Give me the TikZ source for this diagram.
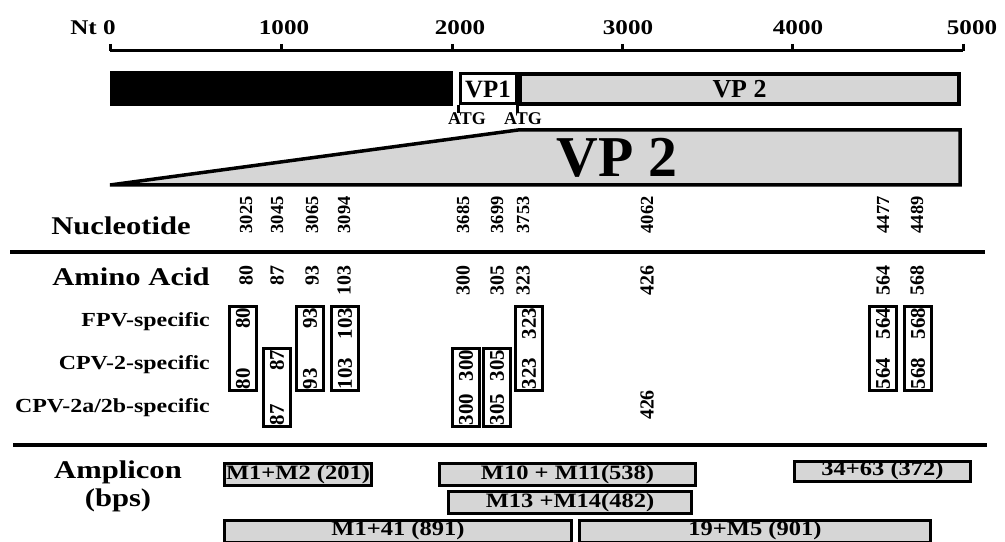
\documentclass[tikz,border=0pt]{standalone}
\usepackage{fontspec}
\setmainfont{Liberation Serif}
\newfontfamily\widefont[FakeStretch=1.2]{Liberation Serif}
\usepackage{tikz}
\usetikzlibrary{positioning}
\usepackage{xcolor}
\definecolor{ink}{RGB}{0,0,0}
\definecolor{dotfill}{RGB}{214,214,214}

\begin{document}
\begin{tikzpicture}[
  x=1bp, y=-1bp,
  rowlab/.style={font=\widefont\bfseries\fontsize{25.6}{28}\selectfont, inner sep=0pt},
  typelab/.style={font=\widefont\bfseries\fontsize{20}{22}\selectfont, inner sep=0pt, anchor=east},
  axlab/.style={font=\widefont\bfseries\fontsize{21}{24}\selectfont, inner sep=0pt},
  ntlab/.style={font=\bfseries\fontsize{18.5}{18}\selectfont, rotate=90, inner sep=0pt},
  aalab/.style={font=\bfseries\fontsize{20}{20}\selectfont, rotate=90, inner sep=0pt},
  site/.style={draw=ink, line width=3.2bp, rotate=90, inner xsep=1.5bp, inner ysep=0pt,
    minimum height=27bp, text width=81bp, align=left, font=\bfseries\fontsize{21}{21}\selectfont},
  siteb/.style={site, text width=75bp},
  amp/.style={draw=ink, fill=dotfill, line width=3bp, inner sep=0pt, minimum height=22bp,
    font=\widefont\bfseries\fontsize{20.5}{20}\selectfont},
  divider/.style={draw=ink, line width=3.5bp}
]
\useasboundingbox (0,0) rectangle (1005,542);
% scale in nucleotides
\draw[line width=3bp] (110,51) -- (963,51);
\draw[line width=3bp] (110,44) -- (110,51) (281,44) -- (281,51) (452,44) -- (452,51)
  (622,44) -- (622,51) (792,44) -- (792,51) (963,44) -- (963,51);
\node[axlab] (nt0) at (93,28) {Nt 0};
\node[axlab] (t1) at (284,28) {1000};
\node[axlab] (t2) at (460,28) {2000};
\node[axlab] (t3) at (628,28) {3000};
\node[axlab] (t4) at (798,28) {4000};
\node[axlab] (t5) at (972,28) {5000};
% genome
\node[fill=ink, minimum width=343bp, minimum height=35bp, inner sep=0pt, anchor=north west] (ns) at (110,71) {};
\node[draw=ink, fill=white, line width=3bp, minimum width=56bp, minimum height=30bp, inner sep=0pt,
  font=\bfseries\fontsize{25}{25}\selectfont] (vp1) at (488,89) {VP1};
\node[draw=ink, fill=dotfill, line width=4bp, minimum width=439bp, minimum height=30bp, inner sep=0pt,
  font=\bfseries\fontsize{26}{26}\selectfont] (vp2) at (739.5,89) {VP 2};
\draw[line width=2.5bp] (vp1.south west) -- ++(0,8);
\draw[line width=2.5bp] (vp1.south east) -- ++(0,8);
\node[font=\bfseries\fontsize{18}{18}\selectfont, inner sep=0pt] (atg1) at (467,119) {ATG};
\node[font=\bfseries\fontsize{18}{18}\selectfont, inner sep=0pt] (atg2) at (523,119) {ATG};
\draw[line width=3.5bp, fill=dotfill] (110,185) -- (518,130) -- (960,130) -- (960,185) -- cycle;
\node[font=\bfseries\fontsize{58}{58}\selectfont, inner sep=0pt] (vpbig) at (617,158) {VP 2};
% nucleotide row
\node[rowlab] (nuc) at (121,226) {Nucleotide};
\node[ntlab] (n3025) at (246,215) {3025};
\node[ntlab] (n3045) at (277,215) {3045};
\node[ntlab] (n3065) at (312,215) {3065};
\node[ntlab] (n3094) at (344,215) {3094};
\node[ntlab] (n3685) at (463,215) {3685};
\node[ntlab] (n3699) at (497,215) {3699};
\node[ntlab] (n3753) at (523,215) {3753};
\node[ntlab] (n4062) at (647,215) {4062};
\node[ntlab] (n4477) at (883,215) {4477};
\node[ntlab] (n4489) at (917,215) {4489};
\draw[divider] (10,252) -- (985,252);
% amino acid row
\node[rowlab] (aa) at (131,277) {Amino Acid};
\node[aalab, anchor=east] (a80) at (246,265) {80};
\node[aalab, anchor=east] (a87) at (277,265) {87};
\node[aalab, anchor=east] (a93) at (312,265) {93};
\node[aalab, anchor=east] (a103) at (344,265) {103};
\node[aalab, anchor=east] (a300) at (463,265) {300};
\node[aalab, anchor=east] (a305) at (497,265) {305};
\node[aalab, anchor=east] (a323) at (523,265) {323};
\node[aalab, anchor=east] (a426) at (647,265) {426};
\node[aalab, anchor=east] (a564) at (883,265) {564};
\node[aalab, anchor=east] (a568) at (917,265) {568};
\node[typelab] (fpv) at (210,322) {FPV-specific};
\node[typelab] (cpv) at (210,365) {CPV-2-specific};
\node[typelab] (cpvab) at (210,408) {CPV-2a/2b-specific};
\node[site] (s80) at (243,348.5) {80\hfill 80};
\node[siteb] (s87) at (277,387.5) {87\hfill 87};
\node[site] (s93) at (310,348.5) {93\hfill 93};
\node[site] (s103) at (345,348.5) {103\hfill 103};
\node[siteb] (s300) at (466,387.5) {300\hfill 300};
\node[siteb] (s305) at (497,387.5) {305\hfill 305};
\node[site] (s323) at (529,348.5) {323\hfill 323};
\node[aalab] (c426) at (647,405) {426};
\node[site] (s564) at (883,348.5) {564\hfill 564};
\node[site] (s568) at (918,348.5) {568\hfill 568};
\draw[divider] (13,445) -- (987,445);
% amplicons
\node[rowlab] (ampl) at (118,472) {Amplicon};
\node[rowlab] (bps) at (118,500) {(bps)};
\node[amp, minimum width=147bp] (m1m2) at (298,474.5) {M1+M2 (201)};
\node[amp, minimum width=256bp] (m10) at (567.5,474.5) {M10 + M11(538)};
\node[amp, minimum width=176bp, minimum height=20bp] (p34) at (882.5,471) {34+63 (372)};
\node[amp, minimum width=243bp] (m13) at (570,502.5) {M13 +M14(482)};
\node[amp, minimum width=347bp] (m41) at (398,531) {M1+41 (891)};
\node[amp, minimum width=351bp] (p19) at (755,531) {19+M5 (901)};
\end{tikzpicture}
\end{document}
